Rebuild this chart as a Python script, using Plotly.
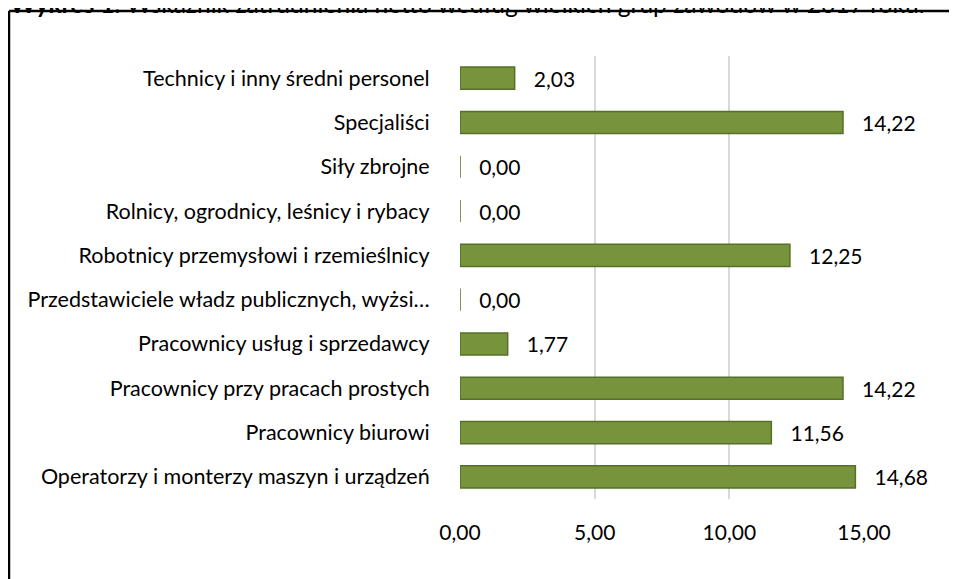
import plotly.graph_objects as go

categories = [
    "Technicy i inny średni personel",
    "Specjaliści",
    "Siły zbrojne",
    "Rolnicy, ogrodnicy, leśnicy i rybacy",
    "Robotnicy przemysłowi i rzemieślnicy",
    "Przedstawiciele władz publicznych, wyżsi…",
    "Pracownicy usług i sprzedawcy",
    "Pracownicy przy pracach prostych",
    "Pracownicy biurowi",
    "Operatorzy i monterzy maszyn i urządzeń",
]
values = [2.03, 14.22, 0.00, 0.00, 12.25, 0.00, 1.77, 14.22, 11.56, 14.68]
x_ticks = [0, 5, 10, 15]

title_text = ("<b>Wykres 1.</b> Wskaźnik zatrudnienia netto według wielkich grup "
              "zawodów w 2017 roku.")

W, H = 957, 579
OFF = 8  # page body margin
ML, MR, MT, MB = 452, 101, 48, 88
ph = H - MT - MB
pw = W - ML - MR

def py(p):
    return 1 + (MT - (p - OFF)) / ph

def px(p):
    return ((p - OFF) - ML) / pw

FONT = "Lato, 'Open Sans', sans-serif"

fig = go.Figure()
fig.add_trace(go.Bar(
    x=values,
    y=categories,
    orientation="h",
    marker=dict(color="#77933C", line=dict(color="#56702A", width=1.5)),
    texttemplate="   %{x:.2f}",
    textposition="outside",
    constraintext="none",
    textfont=dict(family=FONT, size=21, color="#000000"),
    cliponaxis=False,
    width=0.5,
))

fig.update_layout(
    width=W, height=H,
    margin=dict(l=ML, r=MR, t=MT, b=MB, autoexpand=False),
    paper_bgcolor="white",
    plot_bgcolor="white",
    separators=", ",
    showlegend=False,
    font=dict(family=FONT, size=21, color="#000000"),
    xaxis=dict(
        range=[0, 15],
        tickvals=x_ticks,
        tickformat=".2f",
        showgrid=True,
        gridcolor="#D9D9D9",
        gridwidth=1.5,
        zeroline=False,
        showline=False,
        ticks="outside",
        ticklen=15,
        tickcolor="rgba(0,0,0,0)",
        tickfont=dict(family=FONT, size=21),
        automargin=False,
    ),
    yaxis=dict(
        categoryorder="array",
        categoryarray=categories[::-1],
        showgrid=False,
        zeroline=False,
        showline=False,
        ticks="outside",
        ticklen=25,
        tickcolor="rgba(0,0,0,0)",
        tickfont=dict(family=FONT, size=21.5),
        automargin=False,
    ),
    annotations=[dict(
        text=title_text,
        xref="paper", yref="paper",
        x=px(8), y=py(4),
        xanchor="left", yanchor="middle",
        showarrow=False,
        font=dict(family=FONT, size=24.6, color="#000000"),
    )],
    shapes=[
        dict(type="line", xref="paper", yref="paper",
             x0=px(9), x1=px(9), y0=py(800), y1=py(11),
             line=dict(color="#000000", width=2.5), layer="below"),
        dict(type="line", xref="paper", yref="paper",
             x0=px(9), x1=px(1200), y0=py(11), y1=py(11),
             line=dict(color="#000000", width=2.5), layer="below"),
    ],
)

fig.write_html("out.html")
